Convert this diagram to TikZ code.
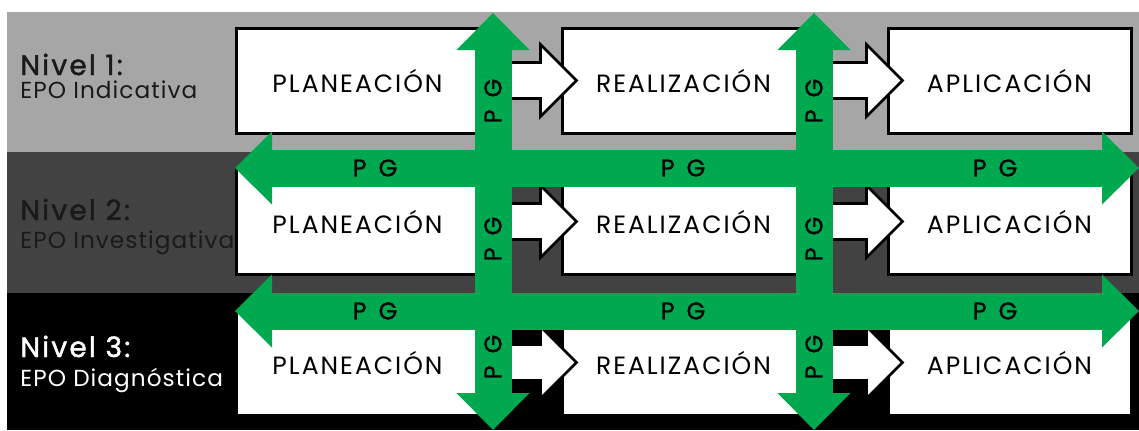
\documentclass[tikz,border=0pt]{standalone}
\usepackage{fontspec}
\setmainfont{Poppins}
\newfontfamily\cajafont{Poppins}[LetterSpace = 8]
\newfontfamily\nivelfont{Poppins}[LetterSpace = 8, FakeBold = 1.5]
\newfontfamily\epofont{Poppins}[LetterSpace = 4.5]
\newfontfamily\pgfont{Poppins}[FakeBold = 1]
\usetikzlibrary{positioning}
\usetikzlibrary{arrows.meta}

\definecolor{verdepg}{RGB}{0,168,80}
\definecolor{grisclaro}{RGB}{166,166,166}
\definecolor{grisoscuro}{RGB}{66,66,66}
\definecolor{textooscuro}{RGB}{26,26,26}

\tikzset{
	caja/.style = {draw = black, line width = 1.5pt, fill = white, minimum width = 121.5pt, minimum height = 52.5pt, inner sep = 0pt, font = \cajafont\fontsize{12.5}{14}\selectfont},
	pg/.style = {draw = verdepg, line width = 18.5pt, {Triangle[length = 18.5pt, width = 36.5pt, line width = 0pt]}-{Triangle[length = 18.5pt, width = 36.5pt, line width = 0pt]}},
	pgtexto/.style = {font = \pgfont\fontsize{12}{13}\selectfont, text = black, inner sep = 0pt},
	nivel/.style = {anchor = base west, font = \nivelfont\fontsize{14}{16}\selectfont, inner sep = 0pt},
	epo/.style = {anchor = base west, font = \epofont\fontsize{11.6}{13}\selectfont, inner sep = 0pt},
	hueca/.pic = {\draw [black, line width = 1.3pt, fill = white, line join = miter] (-40, -18) -- (0, -18) -- (0, -36) -- (36, 0) -- (0, 36) -- (0, 18) -- (-40, 18) -- cycle;}
}

\begin{document}
\begin{tikzpicture}[x = 0.5pt, y = -0.5pt]
	\useasboundingbox [fill = white] (0, 0) rectangle (1139, 430);
	% franjas de los niveles
	\fill [grisclaro] (7, 12) rectangle (1139, 152);
	\fill [grisoscuro] (7, 152) rectangle (1139, 293);
	\fill [black] (7, 293) rectangle (1139, 430);

	\node [nivel, text = textooscuro] (nivel1) at (20, 75) {Nivel 1:};
	\node [epo, text = textooscuro] (epo1) at (20, 98) {EPO Indicativa};
	\node [nivel, text = textooscuro] (nivel2) at (20, 220) {Nivel 2:};
	\node [epo, text = textooscuro] (epo2) at (20, 248) {EPO Investigativa};
	\node [nivel, text = white] (nivel3) at (20, 357) {Nivel 3:};
	\node [epo, text = white] (epo3) at (20, 386) {EPO Diagnóstica};

	% cajas y flechas huecas
	\foreach \n/\y in {1/80.5, 2/221.5, 3/362.5} {
		\node [caja] (plan\n) at (357.5, \y) {PLANEACIÓN};
		\node [caja] (real\n) at (683.5, \y) {REALIZACIÓN};
		\node [caja] (apli\n) at (1009.5, \y) {APLICACIÓN};
		\pic at ([xshift = -10pt] real\n.west) {hueca};
		\pic at ([xshift = -10pt] apli\n.west) {hueca};
	}

	% flechas verdes
	\coordinate (h2izq) at (235, 168);
	\coordinate (h2der) at (1139, 168);
	\coordinate (h3izq) at (235, 311);
	\coordinate (h3der) at (1139, 311);
	\coordinate (v1arr) at (493, 13);
	\coordinate (v1aba) at (493, 430);
	\coordinate (v2arr) at (814, 13);
	\coordinate (v2aba) at (814, 430);
	\draw [pg] (h2izq) -- (h2der);
	\draw [pg] (h3izq) -- (h3der);
	\draw [pg] (v1aba) -- (v1arr);
	\draw [pg] (v2aba) -- (v2arr);

	\foreach \x [count = \i] in {375, 683, 995} {
		\node [pgtexto] (pgh2\i) at (\x, 168) {P\enspace G};
		\node [pgtexto] (pgh3\i) at (\x, 311) {P\enspace G};
	}
	\foreach \y [count = \i] in {101, 239, 357} {
		\node [pgtexto, rotate = 90] (pgv1\i) at (493, \y) {P\enspace G};
		\node [pgtexto, rotate = 90] (pgv2\i) at (814, \y) {P\enspace G};
	}
\end{tikzpicture}
\end{document}
